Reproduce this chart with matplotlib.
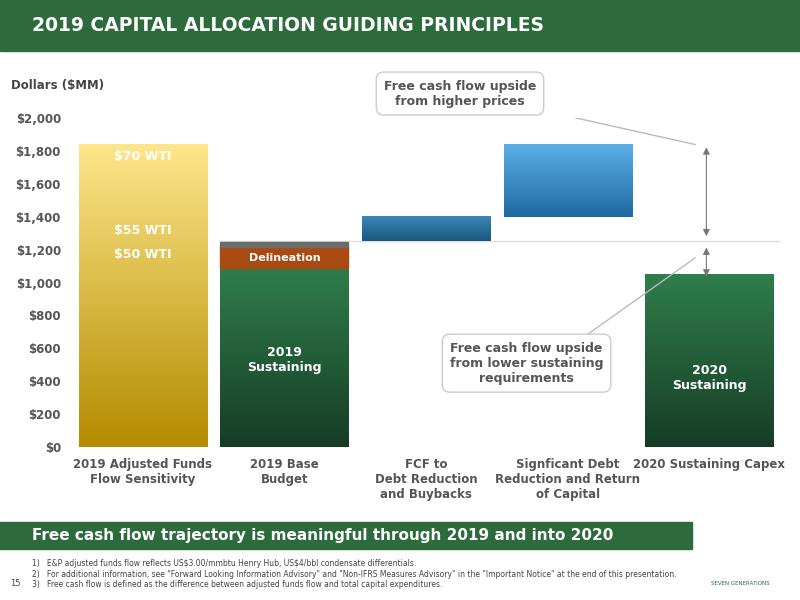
import matplotlib
matplotlib.use("Agg")
import matplotlib.pyplot as plt
import numpy as np
from matplotlib.patches import Rectangle
from matplotlib.colors import LinearSegmentedColormap

categories = ["2019 Adjusted Funds\nFlow Sensitivity", "2019 Base\nBudget", "FCF to\nDebt Reduction\nand Buybacks",
              "Signficant Debt\nReduction and Return\nof Capital", "2020 Sustaining Capex"]
bottoms = [0, 0, 1250, 1400, 0]
tops = [1840, 1090, 1400, 1840, 1050]
delineation = [1090, 1215]
other = [1215, 1250]
wti_labels = ["$70 WTI", "$55 WTI", "$50 WTI"]
wti_values = [1770, 1317, 1170]
yticks = [0, 200, 400, 600, 800, 1000, 1200, 1400, 1600, 1800, 2000]

fig = plt.figure(figsize=(8, 6), dpi=100)
fig.patches.append(Rectangle((0, 0.915), 1, 0.085, transform=fig.transFigure, color="#2d6b3c"))
fig.text(0.04, 0.957, "2019 CAPITAL ALLOCATION GUIDING PRINCIPLES", color="white", fontsize=13.5, fontweight="bold", va="center")

ax = fig.add_axes([0.09, 0.255, 0.885, 0.548])
ax.set_xlim(-0.5, 4.5)
ax.set_ylim(0, 2000)
w = 0.905

def grad_bar(x, b, t, c1, c2):
    cols = np.linspace(0, 1, 100)[:, None]
    cm = LinearSegmentedColormap.from_list("g", [c1, c2])
    ax.imshow(cols, extent=(x - w/2, x + w/2, b, t), aspect="auto", cmap=cm, origin="lower", zorder=2)

grad_bar(0, bottoms[0], tops[0], "#b58c00", "#fde68a")
grad_bar(1, bottoms[1], tops[1], "#163d26", "#2f7d4a")
ax.add_patch(Rectangle((1 - w/2, delineation[0]), w, delineation[1] - delineation[0], color="#a84a12", zorder=3))
ax.add_patch(Rectangle((1 - w/2, other[0]), w, other[1] - other[0], color="#6b6b6b", zorder=3))
grad_bar(2, bottoms[2], tops[2], "#1b5880", "#3a86b8")
grad_bar(3, bottoms[3], tops[3], "#1f6aa0", "#5aaee6")
grad_bar(4, bottoms[4], tops[4], "#163d26", "#2f7d4a")
ax.set_aspect("auto")

for lab, v in zip(wti_labels, wti_values):
    ax.text(0, v, lab, ha="center", va="center", color="white", fontsize=9, fontweight="bold", zorder=4)
ax.text(1, 1152, "Delineation", ha="center", va="center", color="white", fontsize=8, fontweight="bold", zorder=4)
ax.text(1, 530, "2019\nSustaining", ha="center", va="center", color="white", fontsize=9, fontweight="bold", zorder=4)
ax.text(4, 420, "2020\nSustaining", ha="center", va="center", color="white", fontsize=9, fontweight="bold", zorder=4)

ax.plot([1 - w/2, 4.5], [1250, 1250], color="#dddddd", lw=1, zorder=1)
ax.annotate("", xy=(3.98, 1840), xytext=(3.98, 1265), arrowprops=dict(arrowstyle="<|-|>", color="#777777", lw=0.8), annotation_clip=False)
ax.annotate("", xy=(3.98, 1230), xytext=(3.98, 1020), arrowprops=dict(arrowstyle="<|-|>", color="#777777", lw=0.8), annotation_clip=False)

ax.set_yticks(yticks)
ax.set_yticklabels([f"${v:,}" for v in yticks], fontsize=8.5, fontweight="bold", color="#555555")
ax.set_xticks(range(5))
ax.set_xticklabels(categories, fontsize=8.5, fontweight="bold", color="#555555", va="top")
for s in ax.spines.values():
    s.set_visible(False)
ax.tick_params(length=0, pad=8)
ax.text(-0.5 - 0.43, 2180, "Dollars ($MM)", fontsize=8.5, fontweight="bold", color="#444444", ha="left")

bbox = dict(boxstyle="round,pad=0.6", fc="white", ec="#cccccc", lw=1)
ax.text(2.24, 2150, "Free cash flow upside\nfrom higher prices", ha="center", va="center", fontsize=9,
        fontweight="bold", color="#555555", bbox=bbox, zorder=5)
ax.plot([2.65, 3.9], [2080, 1840], color="#bbbbbb", lw=1)
ax.text(2.71, 510, "Free cash flow upside\nfrom lower sustaining\nrequirements", ha="center", va="center", fontsize=9,
        fontweight="bold", color="#555555", bbox=bbox, zorder=5)
ax.plot([3.1, 3.9], [660, 1150], color="#bbbbbb", lw=1)

fig.patches.append(Rectangle((0, 0.085), 0.865, 0.045, transform=fig.transFigure, color="#2d6b3c"))
fig.text(0.04, 0.107, "Free cash flow trajectory is meaningful through 2019 and into 2020", color="white",
         fontsize=11, fontweight="bold", va="center")
notes = ["1)   E&P adjusted funds flow reflects US\\$3.00/mmbtu Henry Hub, US\\$4/bbl condensate differentials.",
         "2)   For additional information, see \"Forward Looking Information Advisory\" and \"Non-IFRS Measures Advisory\" in the \"Important Notice\" at the end of this presentation.",
         "3)   Free cash flow is defined as the difference between adjusted funds flow and total capital expenditures."]
for i, n in enumerate(notes):
    fig.text(0.04, 0.06 - i * 0.017, n, fontsize=5.5, color="#444444", va="center")
fig.text(0.012, 0.027, "15", fontsize=6, color="#444444", va="center")
fig.text(0.925, 0.025, "SEVEN GENERATIONS", fontsize=4, color="#2d6b3c", ha="center")
fig.savefig("out.png", dpi=100)
